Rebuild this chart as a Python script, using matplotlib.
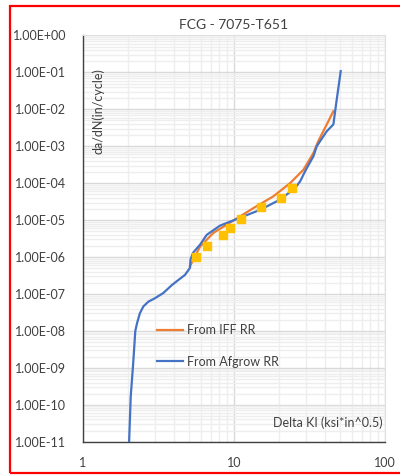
import matplotlib
matplotlib.use("Agg")
import matplotlib.pyplot as plt
import matplotlib.ticker as mticker
from matplotlib.patches import Rectangle

plt.rcParams['font.family'] = ['Lato', 'DejaVu Sans']

# AFGROW rate curve (delta K, da/dN)
afgrow_dk = [2.02, 2.07, 2.15, 2.22, 2.28, 2.38, 2.51, 2.71, 3.0, 3.4, 3.9, 4.74,
             5.11, 5.15, 5.35, 5.95, 6.6, 8.08, 10.0, 14.9, 20.2, 25.4, 27.4, 29.9,
             33.6, 35.3, 41.1, 45.5, 46.6, 47.9, 50.9]
afgrow_rate = [1e-11, 1.65e-10, 1.34e-9, 1e-8, 1.62e-8, 3.0e-8, 4.6e-8, 6.2e-8, 7.7e-8,
               1.06e-7, 1.78e-7, 3.3e-7, 5.1e-7, 8.5e-7, 1.3e-6, 2.15e-6, 4.0e-6, 7.1e-6,
               1.0e-5, 1.9e-5, 3.6e-5, 7.4e-5, 1.12e-4, 2.3e-4, 5.4e-4, 1.0e-3, 2.54e-3,
               3.9e-3, 8.0e-3, 1.84e-2, 0.108]

# IFF rate curve
iff_dk = [5.1, 5.95, 7.3, 10.0, 13.4, 18.2, 23.5, 28.8, 33.6, 36.1, 42.1, 45.5]
iff_rate = [5.6e-7, 1.9e-6, 4.5e-6, 1.0e-5, 2.1e-5, 4.4e-5, 1.0e-4, 2.3e-4, 6.6e-4,
            1.36e-3, 4.7e-3, 8.9e-3]

# test points
test_dk = [5.6, 6.66, 8.5, 9.4, 11.2, 15.0, 20.6, 24.3]
test_rate = [1.0e-6, 2.0e-6, 4.0e-6, 6.3e-6, 1.07e-5, 2.2e-5, 4.0e-5, 7.4e-5]

fig = plt.figure(figsize=(4, 4.75), dpi=100)
ax = fig.add_axes([0.2075, 0.0701, 0.755, 0.8552])

ax.plot(iff_dk, iff_rate, color='#ED7D31', lw=1.6, label='From IFF RR', zorder=3)
ax.plot(afgrow_dk, afgrow_rate, color='#4472C4', lw=1.6, label='From Afgrow RR', zorder=4)
ax.plot(test_dk, test_rate, ls='none', marker='s', ms=6, color='#FFC000', zorder=5)

ax.set_xscale('log')
ax.set_yscale('log')
ax.set_xlim(1, 100)
ax.set_ylim(1e-11, 1)

ax.xaxis.set_major_locator(mticker.LogLocator(base=10, numticks=5))
ax.xaxis.set_major_formatter(mticker.FuncFormatter(lambda v, p: '%g' % v))
ax.xaxis.set_minor_locator(mticker.LogLocator(base=10, subs=range(2, 10), numticks=10))
ax.xaxis.set_minor_formatter(mticker.NullFormatter())
ax.yaxis.set_major_locator(mticker.LogLocator(base=10, numticks=15))
ax.yaxis.set_major_formatter(mticker.FuncFormatter(lambda v, p: '%.2E' % v))
ax.yaxis.set_minor_locator(mticker.LogLocator(base=10, subs=range(2, 10), numticks=15))
ax.yaxis.set_minor_formatter(mticker.NullFormatter())

ax.grid(which='major', color='#D9D9D9', lw=1.0)
ax.grid(which='minor', color='#EEEEEE', lw=1.0)
ax.set_axisbelow(True)
ax.tick_params(which='both', length=0, labelsize=9, colors='#404040')
ax.tick_params(axis='y', pad=12)
ax.tick_params(axis='x', pad=11)

for side in ['top', 'right']:
    ax.spines[side].set_color('#E0E0E0')
for side in ['left', 'bottom']:
    ax.spines[side].set_color('#404040')
    ax.spines[side].set_linewidth(1.0)

ax.set_title('FCG - 7075-T651', fontsize=10, color='#404040', pad=5)
ax.text(0.05, 0.815, 'da/dN(in/cycle)', transform=ax.transAxes, rotation=90,
        ha='center', va='center', fontsize=9, color='#404040')
ax.text(0.993, 0.046, 'Delta KI (ksi*in^0.5)', transform=ax.transAxes,
        ha='right', va='center', fontsize=9, color='#404040')

ax.legend(loc='center left', bbox_to_anchor=(0.225, 0.236), frameon=False,
          fontsize=9, handlelength=2.1, handletextpad=0.25, labelspacing=1.55,
          borderpad=0, labelcolor='#404040')

# red outline round the figure
fig.patches.append(Rectangle((9.5 / 400, 2.5 / 475), 1.0, (475 - 8.5) / 475,
                             transform=fig.transFigure, fill=False,
                             edgecolor='#FF0000', lw=1.6))

fig.savefig('out.png', dpi=100)
